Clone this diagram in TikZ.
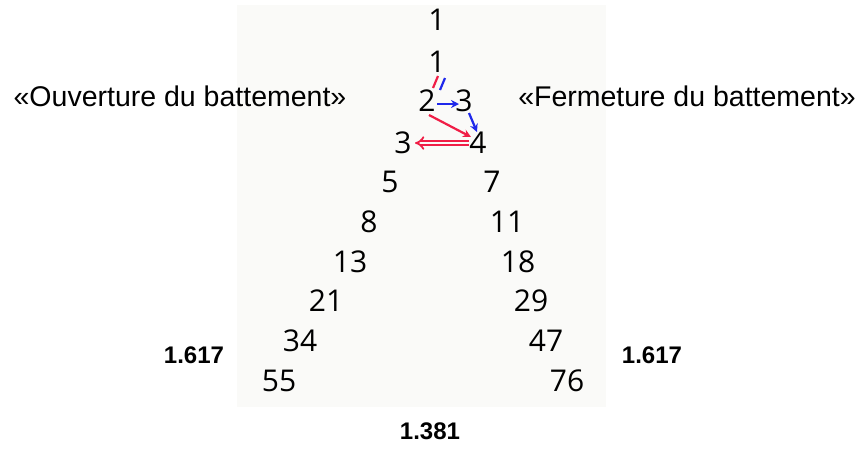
\documentclass[tikz,border=0pt]{standalone}
\usepackage{fontspec}
\setmainfont{Open Sans}
\newfontfamily\arialf{Liberation Sans}
\usetikzlibrary{arrows,arrows.meta}
\definecolor{myred}{RGB}{240,30,70}
\definecolor{myblue}{RGB}{30,40,235}
\definecolor{bgc}{RGB}{250,250,248}
\begin{document}
\begin{tikzpicture}[x=1pt,y=-1pt,
  num/.style={inner sep=0pt, font=\fontsize{30}{30}\selectfont},
  lbl/.style={inner sep=0pt, font=\arialf\fontsize{28.5}{29}\selectfont},
  ratio/.style={inner sep=0pt, font=\arialf\bfseries\fontsize{24}{25}\selectfont},
  rarr/.style={myred, line width=2.2pt, -{Stealth[length=8pt,width=8pt]}},
  barr/.style={myblue, line width=2.2pt, -{Stealth[length=8pt,width=8pt]}}]
\useasboundingbox (0,0) rectangle (867,456);
\fill[bgc] (237,5) rectangle (606,407);
\node[num] (a1) at (437,20) {1};
\node[num] (a2) at (437,62) {1};
\node[num] (b2) at (427,101) {2};
\node[num] (b3) at (464,101) {3};
\node[num] (c3) at (403,143) {3};
\node[num] (c4) at (478,143) {4};
\node[num] (l5) at (390,182) {5};
\node[num] (r7) at (492,182) {7};
\node[num] (l8) at (369,222) {8};
\node[num] (r11) at (507,222) {11};
\node[num] (l13) at (350,262) {13};
\node[num] (r18) at (518,262) {18};
\node[num] (l21) at (326,301) {21};
\node[num] (r29) at (531,301) {29};
\node[num] (l34) at (300,341) {34};
\node[num] (r47) at (546,341) {47};
\node[num] (l55) at (279,381) {55};
\node[num] (r76) at (567,381) {76};
\node[lbl] (open) at (180,96) {«Ouverture du battement»};
\node[lbl] (close) at (687,96) {«Fermeture du battement»};
\node[ratio] (rl) at (194,355) {1.617};
\node[ratio] (rr) at (652,355) {1.617};
\node[ratio] (rb) at (430,431) {1.381};
% tilted equals between 1 and 2
\coordinate (e1a) at (438,76);
\coordinate (e1b) at (433,88);
\coordinate (e2a) at (445,78);
\coordinate (e2b) at (440,90);
\draw[myred, line width=2.2pt] (e1a) -- (e1b);
\draw[myblue, line width=2.2pt] (e2a) -- (e2b);
% arrow end points
\coordinate (p1) at (437,104);
\coordinate (p2) at (459,104);
\coordinate (p3) at (469,113);
\coordinate (p4) at (477,132);
\coordinate (p5) at (429,115);
\coordinate (p6) at (471,137);
\coordinate (p7) at (469,143);
\coordinate (p8) at (415,143);
\draw[barr] (p1) -- (p2);
\draw[barr] (p3) -- (p4);
\draw[rarr] (p5) -- (p6);
\draw[myred, double=bgc, double distance=2.6pt, line width=1.8pt, -Implies] (p7) -- (p8);
\end{tikzpicture}
\end{document}
